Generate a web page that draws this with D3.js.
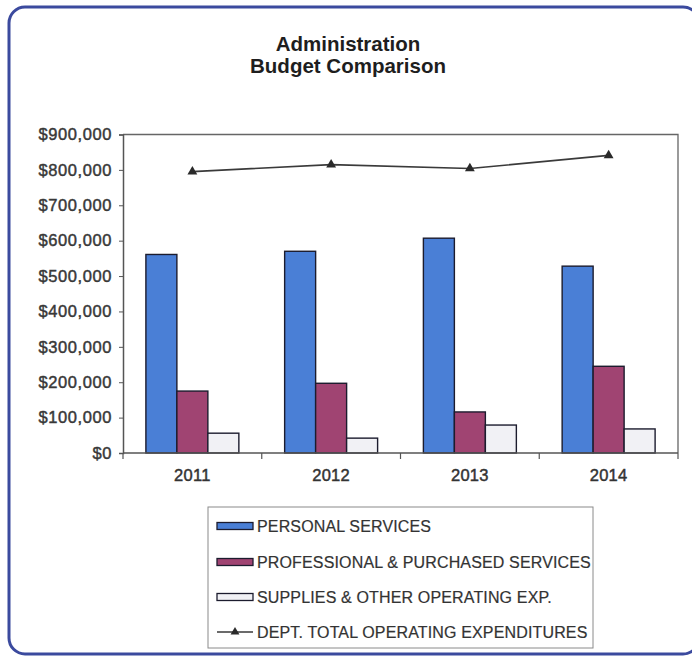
<!DOCTYPE html>
<html>
<head>
<meta charset="utf-8">
<script src="https://cdn.jsdelivr.net/npm/d3@7"></script>
<style>
  html, body { margin: 0; padding: 0; background: #ffffff; }
  svg { display: block; }
  text { font-family: "Liberation Sans", Arial, Helvetica, sans-serif; }
</style>
</head>
<body>
<svg id="chart" width="692" height="657"></svg>
<script>
// Administration budget by fiscal year
const years = ["2011", "2012", "2013", "2014"];
const personalServices = [561000, 570000, 607000, 528000];
const professionalServices = [175000, 197000, 116000, 245000];
const suppliesOperating = [56000, 42000, 79000, 68000];
const totalOperating = [795000, 815000, 804000, 841000];
const yTicks = [0, 100000, 200000, 300000, 400000, 500000, 600000, 700000, 800000, 900000];

const seriesNames = [
  "PERSONAL SERVICES",
  "PROFESSIONAL & PURCHASED SERVICES",
  "SUPPLIES & OTHER OPERATING EXP.",
  "DEPT. TOTAL OPERATING EXPENDITURES"
];
const barSeries = [personalServices, professionalServices, suppliesOperating];
const barFills = ["#4a7fd6", "#a04472", "#f1f1f5"];
const edge = "#1c1c2e";

const svg = d3.select("#chart");

// Rounded frame around the whole panel
svg.append("rect")
  .attr("x", 9).attr("y", 7)
  .attr("width", 690).attr("height", 647)
  .attr("rx", 16).attr("ry", 16)
  .attr("fill", "none")
  .attr("stroke", "#3b4a9e")
  .attr("stroke-width", 3);

// Title
const title = svg.append("text")
  .attr("text-anchor", "middle")
  .attr("font-size", 20.5)
  .attr("font-weight", "bold")
  .attr("fill", "#1e1e1e");
title.append("tspan").attr("x", 348).attr("y", 51).text("Administration");
title.append("tspan").attr("x", 348).attr("y", 73).text("Budget Comparison");

// Plot area
const plot = { left: 123, right: 678, top: 134.5, bottom: 453 };

const x = d3.scaleBand().domain(years).range([plot.left, plot.right]);
const groupWidth = x.bandwidth() * 0.67;
const xInner = d3.scaleBand().domain(d3.range(barSeries.length)).range([0, groupWidth]);
const y = d3.scaleLinear().domain([0, 900000]).range([plot.bottom, plot.top]);

// Plot-area frame (top and right)
svg.append("path")
  .attr("d", `M${plot.left},${plot.top}H${plot.right}V${plot.bottom}`)
  .attr("fill", "none")
  .attr("stroke", "#666")
  .attr("stroke-width", 1.3);

// Bars
barSeries.forEach((vals, si) => {
  svg.append("g")
    .selectAll("rect")
    .data(vals)
    .join("rect")
    .attr("x", (d, i) => x(years[i]) + (x.bandwidth() - groupWidth) / 2 + xInner(si))
    .attr("y", d => y(d))
    .attr("width", xInner.bandwidth())
    .attr("height", d => plot.bottom - y(d))
    .attr("fill", barFills[si])
    .attr("stroke", edge)
    .attr("stroke-width", 1.4);
});

// Y axis
const yAxis = d3.axisLeft(y)
  .tickValues(yTicks)
  .tickSize(4)
  .tickPadding(7)
  .tickFormat(d => "$" + d3.format(",")(d));
const gy = svg.append("g")
  .attr("transform", `translate(${plot.left},0)`)
  .call(yAxis);
gy.select(".domain").attr("stroke", "#555").attr("stroke-width", 1.5);
gy.selectAll(".tick line").attr("stroke", "#555");
gy.selectAll(".tick text")
  .attr("font-size", 16.5)
  .attr("letter-spacing", 0.6)
  .attr("fill", "#383838")
  .attr("stroke", "#383838")
  .attr("stroke-width", 0.45)
  .attr("font-family", "'Liberation Sans', Arial, sans-serif");

// X axis: ticks sit on category boundaries, labels centred under groups
const gx = svg.append("g")
  .attr("transform", `translate(0,${plot.bottom})`);
gx.append("line")
  .attr("x1", plot.left).attr("x2", plot.right)
  .attr("stroke", "#555").attr("stroke-width", 1.5);
const boundaries = years.map(yr => x(yr)).concat([plot.right]);
gx.selectAll("line.tick")
  .data(boundaries)
  .join("line")
  .attr("class", "tick")
  .attr("x1", d => d).attr("x2", d => d)
  .attr("y1", 0).attr("y2", 6)
  .attr("stroke", "#555").attr("stroke-width", 1.2);
gx.selectAll("text")
  .data(years)
  .join("text")
  .attr("x", d => x(d) + x.bandwidth() / 2)
  .attr("y", 28)
  .attr("text-anchor", "middle")
  .attr("font-size", 16.5)
  .attr("letter-spacing", 0.3)
  .attr("fill", "#333")
  .attr("stroke", "#333")
  .attr("stroke-width", 0.45)
  .text(d => d);

// Total operating expenditures line
const line = d3.line()
  .x((d, i) => x(years[i]) + x.bandwidth() / 2)
  .y(d => y(d));
svg.append("path")
  .datum(totalOperating)
  .attr("d", line)
  .attr("fill", "none")
  .attr("stroke", "#3a3a3a")
  .attr("stroke-width", 1.6);
const tri = d3.symbol(d3.symbolTriangle, 42);
svg.append("g")
  .selectAll("path")
  .data(totalOperating)
  .join("path")
  .attr("transform", (d, i) => `translate(${x(years[i]) + x.bandwidth() / 2},${y(d)})`)
  .attr("d", tri)
  .attr("fill", "#2a2a2a");

// Legend
const legend = svg.append("g");
legend.append("rect")
  .attr("x", 208).attr("y", 507)
  .attr("width", 385).attr("height", 141)
  .attr("fill", "#fff")
  .attr("stroke", "#8a8a8a")
  .attr("stroke-width", 1);

const rowY = [526, 562, 597, 632];
seriesNames.forEach((name, i) => {
  const cy = rowY[i];
  if (i < 3) {
    legend.append("rect")
      .attr("x", 217).attr("y", cy - 3.5)
      .attr("width", 36).attr("height", 7)
      .attr("fill", barFills[i])
      .attr("stroke", edge)
      .attr("stroke-width", 1.3);
  } else {
    legend.append("line")
      .attr("x1", 217).attr("x2", 253)
      .attr("y1", cy).attr("y2", cy)
      .attr("stroke", "#3a3a3a").attr("stroke-width", 1.6);
    legend.append("path")
      .attr("transform", `translate(235,${cy})`)
      .attr("d", d3.symbol(d3.symbolTriangle, 34))
      .attr("fill", "#2a2a2a");
  }
  legend.append("text")
    .attr("x", 257).attr("y", cy + 6)
    .attr("font-size", 16)
    .attr("letter-spacing", 0.15)
    .attr("fill", "#333")
    .attr("stroke", "#333")
    .attr("stroke-width", 0.2)
    .text(name);
});
</script>
</body>
</html>
